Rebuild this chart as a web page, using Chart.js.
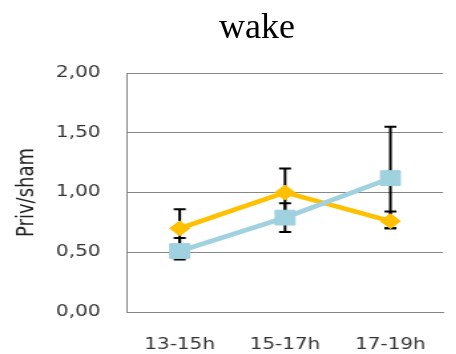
<!DOCTYPE html>
<html>
<head>
<meta charset="utf-8">
<script src="https://cdn.jsdelivr.net/npm/chart.js@4"></script>
<style>
html,body{margin:0;padding:0;background:#fff;overflow:hidden;width:456px;height:354px}
#wrap{position:relative;width:456px;height:354px}
#ttl{position:absolute;left:0;top:8px;width:514px;text-align:center;font:36px 'Liberation Serif',serif;line-height:36px;color:#000}
#c{position:absolute;left:0;top:0;transform:scaleX(1.33);transform-origin:0 0}
</style>
</head>
<body>
<div id="wrap">
  <canvas id="c" width="346" height="354"></canvas>
  <div id="ttl">wake</div>
</div>
<script>
// data
const cats=['13-15h','15-17h','17-19h'];
const gold=[0.70,1.00,0.76];
const goldHi=[0.86,1.20,0.84];
const goldLo=[0.54,0.80,0.70];
const aqua=[0.51,0.79,1.12];
const aquaHi=[0.62,0.91,1.55];
const aquaLo=[0.44,0.67,0.70];
const yTicks=[0,0.5,1,1.5,2];

const GOLD='#ffc000', AQUA='#9fd1df';
const fmt=v=>v.toFixed(2).replace('.',',');

const errBars={id:'errBars',beforeDatasetsDraw(chart){
  const {ctx,scales:{x,y}}=chart;
  const sets=[[gold,goldHi,goldLo],[aqua,aquaHi,aquaLo]];
  ctx.save();ctx.strokeStyle='#000';ctx.lineWidth=2;
  sets.forEach(([v,hi,lo])=>{
    v.forEach((_,i)=>{
      const px=x.getPixelForValue(i), y1=y.getPixelForValue(hi[i]), y2=y.getPixelForValue(lo[i]);
      ctx.beginPath();
      ctx.moveTo(px,y1);ctx.lineTo(px,y2);
      ctx.moveTo(px-4.5,y1);ctx.lineTo(px+4.5,y1);
      ctx.moveTo(px-4.5,y2);ctx.lineTo(px+4.5,y2);
      ctx.stroke();
    });
  });
  ctx.restore();
}};

new Chart(document.getElementById('c'),{
  type:'line',
  data:{labels:cats,datasets:[
    {label:'gold',data:gold,borderColor:GOLD,backgroundColor:GOLD,borderWidth:4.5,tension:0,
     pointStyle:'rectRot',pointRadius:7.5,pointBorderWidth:1,pointBorderColor:GOLD,order:1},
    {label:'aqua',data:aqua,borderColor:AQUA,backgroundColor:AQUA,borderWidth:4.5,tension:0,
     pointStyle:'rect',pointRadius:10.5,pointBorderWidth:1,pointBorderColor:AQUA,order:0}
  ]},
  options:{
    responsive:false,animation:false,
    layout:{padding:{top:73,left:0,right:0,bottom:0}},
    plugins:{legend:{display:false},tooltip:{enabled:false},title:{display:false}},
    scales:{
      x:{offset:true,
        afterFit(s){s.height=42;},
        grid:{display:false,drawTicks:false},
        border:{display:true,color:'#868686',width:1},
        ticks:{color:'#333',padding:24,font:{family:'DejaVu Sans',size:15},maxRotation:0}},
      y:{min:0,max:2,
        afterFit(s){s.width=95.5;},
        afterBuildTicks(s){s.ticks=yTicks.map(v=>({value:v}));},
        grid:{color:'#868686',lineWidth:1,drawTicks:false},
        border:{display:true,color:'#868686',width:1},
        ticks:{color:'#333',padding:20,font:{family:'DejaVu Sans',size:15},callback:v=>fmt(v)},
        title:{display:true,text:'Priv/sham',color:'#222',font:{family:'DejaVu Sans',size:18},padding:{top:10,bottom:10}}}
    }
  },
  plugins:[errBars]
});
</script>
</body>
</html>
